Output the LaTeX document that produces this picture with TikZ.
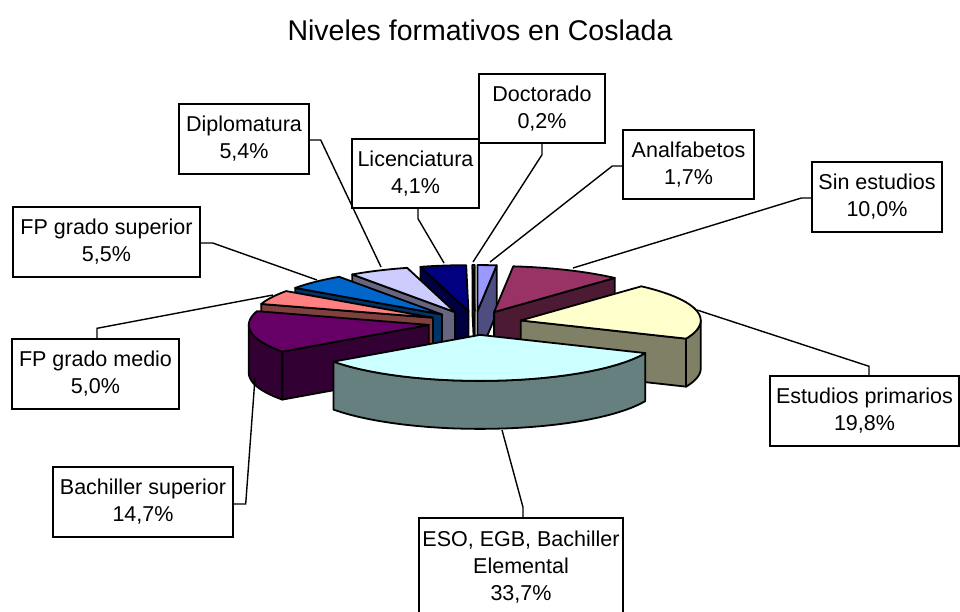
\documentclass[tikz,border=0pt]{standalone}
\usepackage{fontspec}
\setmainfont{Liberation Sans}
\definecolor{analT}{HTML}{9999FF}\definecolor{analS}{HTML}{4D4D80}
\definecolor{sinT}{HTML}{993366}\definecolor{sinS}{HTML}{4D1A33}
\definecolor{estT}{HTML}{FFFFCC}\definecolor{estS}{HTML}{808066}
\definecolor{esoT}{HTML}{CCFFFF}\definecolor{esoS}{HTML}{668080}
\definecolor{bacT}{HTML}{660066}\definecolor{bacS}{HTML}{330033}
\definecolor{fpmT}{HTML}{FF8080}\definecolor{fpmS}{HTML}{804040}
\definecolor{fpsT}{HTML}{0066CC}\definecolor{fpsS}{HTML}{003366}
\definecolor{dipT}{HTML}{CCCCFF}\definecolor{dipS}{HTML}{666680}
\definecolor{licT}{HTML}{000080}\definecolor{licS}{HTML}{000040}
\definecolor{docT}{HTML}{FF00FF}\definecolor{docS}{HTML}{800080}
\def\cx{475}\def\cy{323}\def\rx{180}\def\ry{46}\def\hh{48}\def\ex{0.26}
\newcommand\sliceapex[2]{%
 \pgfmathsetmacro\ph{(#1+#2)/2}%
 \pgfmathsetmacro\ax{\cx+\ex*\rx*sin(\ph)}%
 \pgfmathsetmacro\ay{\cy-\ex*\ry*cos(\ph)}}
\newcommand\radface[2]{%
 \filldraw[pieline, fill=#2] (\ax,\ay) -- ({\ax+\rx*sin(#1)},{\ay-\ry*cos(#1)}) -- ({\ax+\rx*sin(#1)},{\ay-\ry*cos(#1)+\hh}) -- (\ax,{\ay+\hh}) -- cycle;}
\newcommand\outface[3]{%
 \filldraw[pieline, fill=#3] plot[domain=#1:#2, samples=30, variable=\q] ({\ax+\rx*sin(\q)},{\ay-\ry*cos(\q)}) -- plot[domain=#2:#1, samples=30, variable=\q] ({\ax+\rx*sin(\q)},{\ay-\ry*cos(\q)+\hh}) -- cycle;}
\newcommand\topface[3]{%
 \filldraw[pieline, fill=#3] (\ax,\ay) -- plot[domain=#1:#2, samples=30, variable=\q] ({\ax+\rx*sin(\q)},{\ay-\ry*cos(\q)}) -- cycle;}
\begin{document}
\begin{tikzpicture}[x=1pt,y=-1pt,
  pieline/.style={draw=black, line width=1.8pt, line join=round},
  lbl/.style={draw=black, line width=1.4pt, fill=white, align=center, inner sep=0pt,
    font=\fontsize{21.5}{27}\selectfont},
  lead/.style={draw=black, line width=1.4pt}]
\fill[white] (0,0) rectangle (960,611);
\useasboundingbox (0,0) rectangle (960,611);
\node[font=\fontsize{28.5}{32}\selectfont] (title) at (480,30) {Niveles formativos en Coslada};
% back slices
\sliceapex{344.54}{359.28}
\radface{344.54}{licS}\topface{344.54}{359.28}{licT}
\sliceapex{359.28}{360}
\radface{359.28}{docS}\topface{359.28}{360}{docT}
\sliceapex{0}{6.11}
\radface{6.11}{analS}\topface{0}{6.11}{analT}
\sliceapex{325.12}{344.54}
\radface{325.12}{dipS}\topface{325.12}{344.54}{dipT}
\sliceapex{6.11}{42.08}
\radface{42.08}{sinS}\topface{6.11}{42.08}{sinT}
\sliceapex{305.33}{325.12}
\radface{305.33}{fpsS}\topface{305.33}{325.12}{fpsT}
\sliceapex{287.35}{305.33}
\radface{287.35}{fpmS}\topface{287.35}{305.33}{fpmT}
\sliceapex{42.08}{113.29}
\radface{113.29}{estS}\outface{90}{113.29}{estS}\topface{42.08}{113.29}{estT}
\sliceapex{234.49}{287.35}
\radface{234.49}{bacS}\outface{234.49}{270}{bacS}\topface{234.49}{287.35}{bacT}
\sliceapex{113.29}{234.49}
\outface{113.29}{234.49}{esoS}\topface{113.29}{234.49}{esoT}
% leader end points
\coordinate (pLic) at (444,263);
\coordinate (pDoc) at (473,262);
\coordinate (pAna) at (490,262);
\coordinate (pSin) at (573,268);
\coordinate (pEst) at (697,310);
\coordinate (pEso) at (502,430);
\coordinate (pBac) at (255,378);
\coordinate (pFpm) at (273,295);
\coordinate (pFps) at (317,280);
\coordinate (pDip) at (381,267);
% labels
\node[lbl, minimum width=130, minimum height=70] (dip) at (244,139) {Diplomatura\\5,4\%};
\node[lbl, minimum width=127, minimum height=69] (lic) at (415.5,173.5) {Licenciatura\\4,1\%};
\node[lbl, minimum width=126, minimum height=69] (doc) at (542,108.5) {Doctorado\\0,2\%};
\node[lbl, minimum width=131, minimum height=69] (ana) at (688.5,164.5) {Analfabetos\\1,7\%};
\node[lbl, minimum width=130, minimum height=70] (sin) at (877,197) {Sin estudios\\10,0\%};
\node[lbl, minimum width=189, minimum height=70] (est) at (864.5,411) {Estudios primarios\\19,8\%};
\node[lbl, minimum width=204, minimum height=98] (eso) at (521,567) {ESO, EGB, Bachiller\\Elemental\\33,7\%};
\node[lbl, minimum width=180, minimum height=70] (bac) at (143,502) {Bachiller superior\\14,7\%};
\node[lbl, minimum width=167, minimum height=70] (fpm) at (95.5,374) {FP grado medio\\5,0\%};
\node[lbl, minimum width=187, minimum height=70] (fps) at (106.5,242) {FP grado superior\\5,5\%};
% leaders
\draw[lead] (lic.south) ++(2.5,0) -- ++(0,10) -- (pLic);
\draw[lead] (doc.south) -- ++(0,11) -- (pDoc);
\draw[lead] (ana.west) ++(0,1.5) -- ++(-10,0) -- (pAna);
\draw[lead] (sin.west) ++(0,1) -- ++(-10,0) -- (pSin);
\draw[lead] (est.north) ++(4.5,0) -- ++(0,-9) -- (pEst);
\draw[lead] (eso.north) ++(2,0) -- ++(0,-10) -- (pEso);
\draw[lead] (bac.east) ++(0,2) -- ++(12,0) -- (pBac);
\draw[lead] (fpm.north) ++(1.5,0) -- ++(0,-10) -- (pFpm);
\draw[lead] (fps.east) ++(0,1) -- ++(12,0) -- (pFps);
\draw[lead] (dip.east) ++(0,1) -- ++(11,0) -- (pDip);
\end{tikzpicture}
\end{document}
